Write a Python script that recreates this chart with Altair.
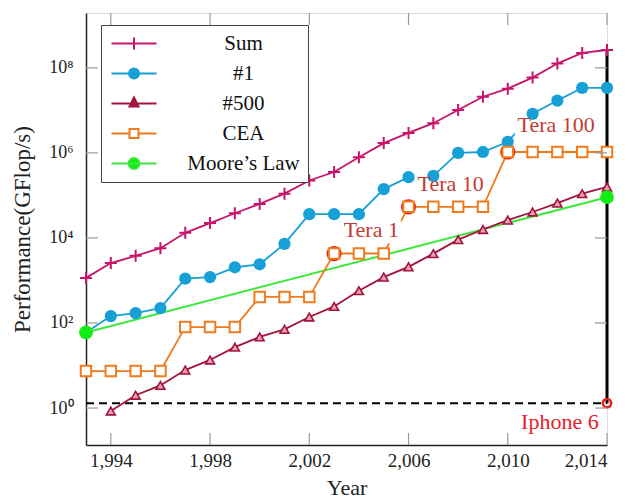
import altair as alt
import pandas as pd

# ---------------- data ----------------
years = list(range(1993, 2015))
sum_vals = [1150, 2570, 3800, 5750, 13200, 22400, 38000, 63000, 110000, 224000, 355000,
            794000, 1.7e6, 2.95e6, 5.0e6, 1.02e7, 2.09e7, 3.24e7, 5.9e7, 1.26e8, 2.24e8, 2.63e8]
one_vals = [60, 145, 170, 224, 1100, 1200, 2040, 2400, 7240, 36300, 36300, 36300,
            141000, 269000, 288000, 1.0e6, 1.05e6, 1.82e6, 8.3e6, 1.7e7, 3.39e7, 3.39e7]
years500 = list(range(1994, 2015))
v500 = [0.85, 2.0, 3.4, 7.8, 13.5, 27, 47, 71, 138, 245, 575, 1200, 2090, 4270, 9100,
        15800, 26300, 40700, 66100, 110000, 158000]
cea_vals = [7.4, 7.4, 7.4, 7.4, 80, 80, 80, 410, 410, 410, 4300, 4300, 4300,
            54000, 54000, 54000, 54000, 1.05e6, 1.05e6, 1.05e6, 1.05e6, 1.05e6]
moore_years = [1993, 2014]
moore_vals = [60, 91000]

iphone_year = 2014
iphone_val = 1.3

ann_labels = ["Tera 1", "Tera 10", "Tera 100"]
ann_x = [2004.5, 2007.7, 2011.95]
ann_y = [15000, 186000, 4.57e6]
tera_years = [2003, 2006, 2010]
tera_vals = [4300, 54000, 1.05e6]

x_ticks = [1994, 1998, 2002, 2006, 2010, 2014]
y_ticks = [1, 100, 1e4, 1e6, 1e8]

series_names = ["Sum", "#1", "#500", "CEA", "Moore’s Law"]

# ---------------- styles ----------------
SUM_C = "#c8136b"
ONE_C = "#17a0d6"
FIVE_C = "#a3143c"
CEA_C = "#f07a1c"
MOORE_C = "#3de83d"
MOORE_DOT = "#11ee11"
TERA_C = "#c23b32"
IPH_C = "#e8202a"
FONT = "Liberation Serif"

W, H = 521, 432

xs = alt.Scale(domain=[1993, 2014], nice=False, zero=False)
ys = alt.Scale(type="log", domain=[0.135, 1.95e9], nice=False)

df_sum = pd.DataFrame({"year": years, "val": sum_vals})
df_one = pd.DataFrame({"year": years, "val": one_vals})
df_500 = pd.DataFrame({"year": years500, "val": v500})
df_cea = pd.DataFrame({"year": years, "val": cea_vals})
df_moore = pd.DataFrame({"year": moore_years, "val": moore_vals})
df_ann = pd.DataFrame({"label": ann_labels, "year": ann_x, "val": ann_y})
df_iph_txt = pd.DataFrame({"label": ["Iphone 6"], "year": [2012.1], "val": [0.47]})
df_red = pd.DataFrame({"year": tera_years, "val": tera_vals})
df_red_iph = pd.DataFrame({"year": [iphone_year], "val": [iphone_val]})
df_hline = pd.DataFrame({"y0": [1993], "y1": [2014], "val": [iphone_val]})
df_vline = pd.DataFrame({"year": [iphone_year], "v0": [iphone_val], "v1": [sum_vals[-1]]})
df_xt = pd.DataFrame({"year": x_ticks})
df_yt = pd.DataFrame({"val": y_ticks})

X = alt.X("year:Q", scale=xs, axis=alt.Axis(
    values=x_ticks, format=",d", title="Year", grid=False, ticks=False, tickSize=0,
    labelFont=FONT, labelFontSize=19, labelColor="#222", labelPadding=21,
    labelBaseline="alphabetic", domainColor="#222", domainWidth=1.5,
    titleFont=FONT, titleFontSize=22, titleFontWeight="normal", titleColor="#222",
    titleY=49, titleBaseline="alphabetic"))
Y = alt.Y("val:Q", scale=ys, axis=alt.Axis(
    values=y_ticks, grid=False, ticks=False, tickSize=0,
    labelExpr="'10' + ['⁰','¹','²','³','⁴','⁵','⁶','⁷','⁸','⁹'][round(log(datum.value)/LN10)]",
    labelFont=FONT, labelFontSize=18, labelColor="#222", labelPadding=13,
    domainColor="#222", domainWidth=1.5,
    title="Performance(GFlop/s)", titleFont=FONT, titleFontSize=23, titleFontWeight="normal",
    titleColor="#222", titleX=-64, titleY=216, titleBaseline="middle", titleAlign="center"))


def line(df, color, width=1.8):
    return alt.Chart(df).mark_line(color=color, strokeWidth=width).encode(x=X, y=Y)


hline = alt.Chart(df_hline).mark_rule(color="black", strokeWidth=2, strokeDash=[8, 5]).encode(
    x="y0:Q", x2="y1:Q", y="val:Q")
vline = alt.Chart(df_vline).mark_rule(color="black", strokeWidth=3).encode(
    x="year:Q", y="v0:Q", y2="v1:Q")

halo = alt.Chart(df_ann).mark_text(font=FONT, fontSize=22, fill="white", stroke="white",
                                   strokeWidth=13, strokeJoin="round").encode(
    x="year:Q", y="val:Q", text="label:N")
ann = alt.Chart(df_ann).mark_text(font=FONT, fontSize=22, color=TERA_C).encode(
    x="year:Q", y="val:Q", text="label:N")
iph = alt.Chart(df_iph_txt).mark_text(font=FONT, fontSize=22, color=IPH_C).encode(
    x="year:Q", y="val:Q", text="label:N")

red = alt.Chart(df_red).mark_point(shape="circle", size=150, filled=False, color="#e8201a",
                                   strokeWidth=3, opacity=1).encode(x="year:Q", y="val:Q")
red_iph = alt.Chart(df_red_iph).mark_point(shape="circle", size=70, filled=False, color="#e8201a",
                                           strokeWidth=2.5, opacity=1).encode(x="year:Q", y="val:Q")

m_sum = alt.Chart(df_sum).mark_point(shape="M-1,0H1M0,-1V1", size=144, filled=False,
                                     color=SUM_C, strokeWidth=2, opacity=1).encode(x="year:Q", y="val:Q")
m_one = alt.Chart(df_one).mark_circle(size=150, color=ONE_C, opacity=1).encode(x="year:Q", y="val:Q")
m_500 = alt.Chart(df_500).mark_point(shape="triangle-up", size=80, filled=True, fill="#e7a0b4",
                                     stroke=FIVE_C, strokeWidth=1.6, opacity=1).encode(x="year:Q", y="val:Q")
m_cea = alt.Chart(df_cea).mark_point(shape="square", size=110, filled=True, fill="white",
                                     stroke=CEA_C, strokeWidth=2, opacity=1).encode(x="year:Q", y="val:Q")
m_moore = alt.Chart(df_moore).mark_circle(size=190, color=MOORE_DOT, opacity=1).encode(x="year:Q", y="val:Q")

tick_c = "#9a9a9a"
t_bottom = alt.Chart(df_xt).mark_rule(color=tick_c, strokeWidth=1.2).encode(
    x="year:Q", y=alt.value(H), y2=alt.value(H - 12))
t_top = alt.Chart(df_xt).mark_rule(color=tick_c, strokeWidth=1.2).encode(
    x="year:Q", y=alt.value(0), y2=alt.value(12))
t_left = alt.Chart(df_yt).mark_rule(color=tick_c, strokeWidth=1.2).encode(
    y="val:Q", x=alt.value(0), x2=alt.value(12))
t_right = alt.Chart(df_yt).mark_rule(color=tick_c, strokeWidth=1.2).encode(
    y="val:Q", x=alt.value(W), x2=alt.value(W - 12))

# legend-only layer (invisible points, visible legend)
leg_paths = [
    "M-3,0H3M0,-0.8V0.8",
    "M-3,0H3M-0.67,0A0.67,0.67 0 1,0 0.67,0A0.67,0.67 0 1,0 -0.67,0Z",
    "M-3,0H3M0,-0.8L0.6,0.4H-0.6Z",
    "M-3,0H-0.6M0.6,0H3M-0.6,-0.6H0.6V0.6H-0.6Z",
    "M-3,0H3M-0.73,0A0.73,0.73 0 1,0 0.73,0A0.73,0.73 0 1,0 -0.73,0Z",
]
leg_stroke = [SUM_C, ONE_C, FIVE_C, CEA_C, MOORE_C]
leg_fill = [SUM_C, ONE_C, FIVE_C, "white", MOORE_DOT]
df_leg = pd.DataFrame({"series": series_names, "year": [1993] * 5, "val": [100] * 5})
LEG = alt.Legend(orient="none", legendX=15, legendY=12, title=None,
                 labelFont=FONT, labelFontSize=21, labelColor="#111", labelAlign="center",
                 labelOffset=99, labelLimit=0, symbolSize=225, symbolStrokeWidth=2,
                 symbolOpacity=1, symbolOffset=14.5, strokeColor="#444", fillColor="white",
                 padding=8, rowPadding=8)
leg_layer = alt.Chart(df_leg).mark_point(filled=True, opacity=0).encode(
    x="year:Q", y="val:Q",
    shape=alt.Shape("series:N", scale=alt.Scale(domain=series_names, range=leg_paths), legend=LEG),
    stroke=alt.Stroke("series:N", scale=alt.Scale(domain=series_names, range=leg_stroke), legend=LEG),
    fill=alt.Fill("series:N", scale=alt.Scale(domain=series_names, range=leg_fill), legend=LEG),
)

chart = alt.layer(
    hline, vline,
    line(df_moore, MOORE_C, 2),
    line(df_sum, SUM_C), line(df_one, ONE_C), line(df_500, FIVE_C), line(df_cea, CEA_C),
    halo, red, red_iph,
    m_sum, m_one, m_500, m_cea, m_moore,
    ann, iph,
    t_bottom, t_top, t_left, t_right,
    leg_layer,
).properties(
    width=W, height=H,
    autosize=alt.AutoSizeParams(type="none"),
    padding={"left": 86, "top": 13, "right": 21, "bottom": 54},
).configure_view(stroke="#555", strokeWidth=1).configure(background="white")

chart.save("out.html", embed_options={"renderer": "svg", "actions": False})
